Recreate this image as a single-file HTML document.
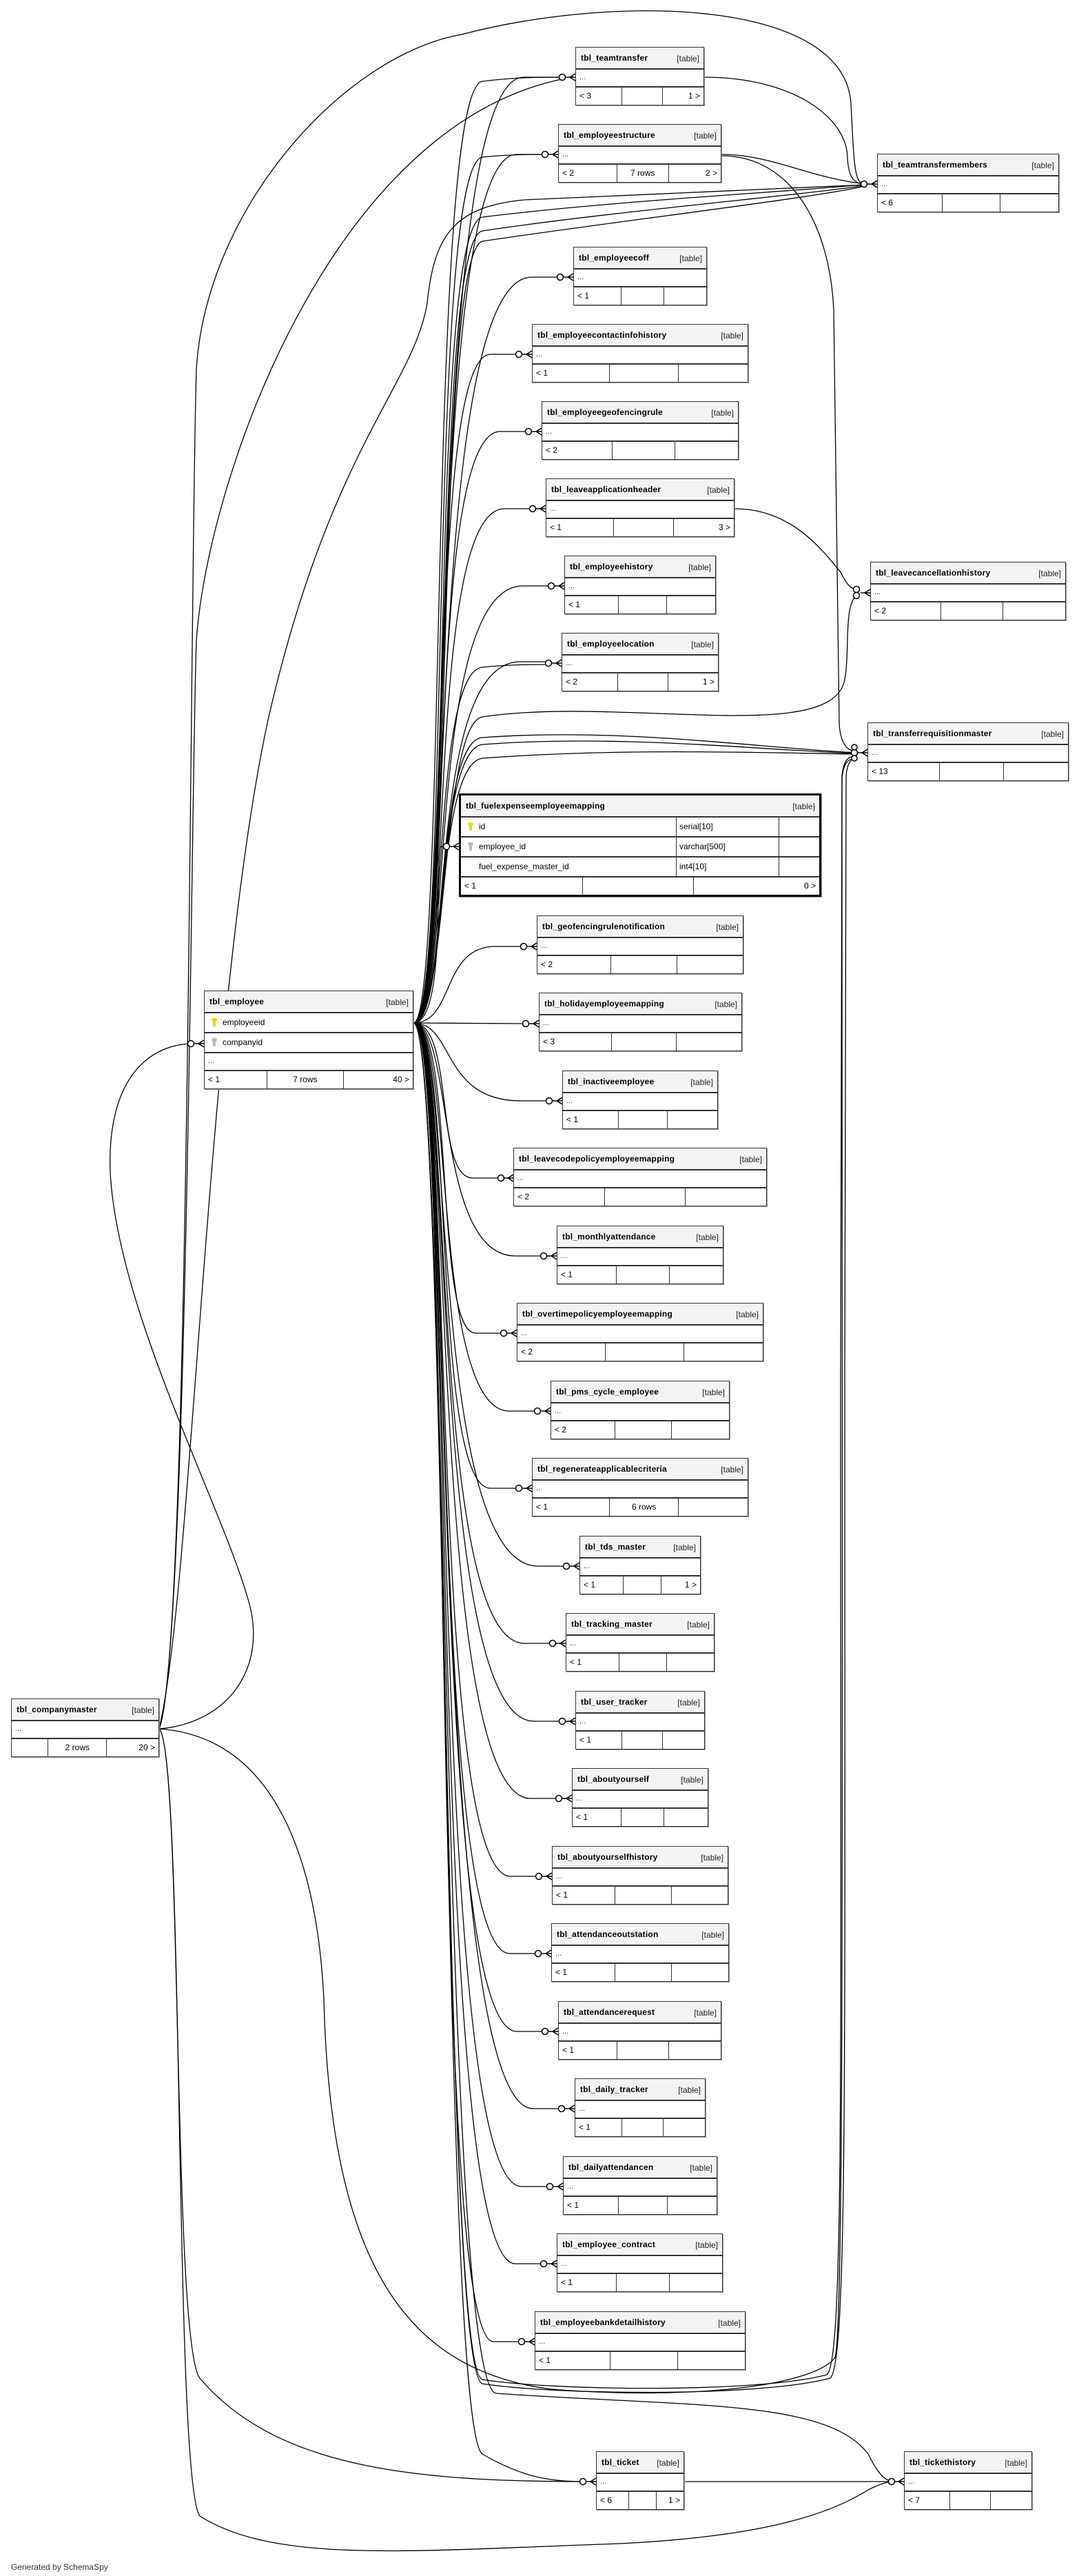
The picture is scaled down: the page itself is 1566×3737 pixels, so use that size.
<!DOCTYPE html>
<html><head><meta charset="utf-8"><style>
body{margin:0;width:1566px;height:3737px;position:relative;background:#fff;overflow:hidden;font-family:"Liberation Sans",sans-serif;color:#000}
.t{position:absolute;border:1px solid #333;background:#fff;box-sizing:border-box;box-shadow:1px 1px 0 #999}
.h{height:30px;background:#f3f3f3;border-bottom:2px solid #333;position:relative}
.h b{position:absolute;left:7px;top:8px;font-size:12px;letter-spacing:0.2px}
.h i{position:absolute;right:6px;top:9px;font-style:normal;font-size:12px;color:#222}
.r{height:24px;border-bottom:2px solid #333;font-size:11px;padding-left:5px;line-height:22px;color:#333;position:relative}
.f{height:25px;display:flex;font-size:12px;line-height:24px}
.f span{box-sizing:border-box;padding:0 5px;border-right:1px solid #333}
.f span:nth-child(1){width:36%}
.f span:nth-child(2){width:32%;text-align:center}
.f span:nth-child(3){flex:1;text-align:right;border-right:none}
.k{display:inline-block;width:4px;height:12px;margin:0 10px 0 4px;vertical-align:-2px;position:relative}
.k:before{content:"";position:absolute;left:-2px;top:0;width:8px;height:5px;border-radius:4px;background:inherit}
.er{height:27px;border-bottom:2px solid #333;font-size:12px;line-height:27px;padding-left:8px;display:flex}
.er div{box-sizing:border-box}
</style></head><body>
<svg width="1566" height="3737" style="position:absolute;left:0;top:0" fill="none" stroke="#000" stroke-width="1.3">
<path d="M600,1484 C660,1484 615,112 760,112 L820,112"/>
<path d="M600,1484 C650,1484 620,130 700,118 C750,112 780,112 820,112"/>
<path d="M600,1484 C660,1484 615,224 750,224 L795,224"/>
<path d="M600,1484 C655,1484 620,240 700,228 C740,224 770,224 795,224"/>
<path d="M600,1484 C660,1484 615,402 772,402 L817,402"/>
<path d="M600,1484 C660,1484 615,514 712,514 L757,514"/>
<path d="M600,1484 C660,1484 615,626 726,626 L771,626"/>
<path d="M600,1484 C660,1484 615,738 732,738 L777,738"/>
<path d="M600,1484 C660,1484 615,850 759,850 L804,850"/>
<path d="M600,1484 C660,1484 615,960 755,960 L800,960"/>
<path d="M600,1484 C650,1484 625,975 700,968 C740,964 770,964 800,964"/>
<path d="M600,1484 C650,1484 630,1228 640,1228 L651,1228"/>
<path d="M600,1484 C660,1484 640,1373 719,1373 L764,1373"/>
<path d="M600,1484 L767,1485"/>
<path d="M600,1484 C660,1484 640,1597 756,1597 L801,1597"/>
<path d="M600,1484 C660,1484 630,1709 686,1709 L731,1709"/>
<path d="M600,1484 C660,1484 630,1822 748,1822 L793,1822"/>
<path d="M600,1484 C660,1484 630,1934 690,1934 L735,1934"/>
<path d="M600,1484 C660,1484 625,2047 739,2047 L784,2047"/>
<path d="M600,1484 C660,1484 625,2159 712,2159 L757,2159"/>
<path d="M600,1484 C660,1484 620,2272 781,2272 L826,2272"/>
<path d="M600,1484 C660,1484 620,2384 761,2384 L806,2384"/>
<path d="M600,1484 C660,1484 620,2497 775,2497 L820,2497"/>
<path d="M600,1484 C660,1484 620,2609 770,2609 L815,2609"/>
<path d="M600,1484 C660,1484 620,2722 741,2722 L786,2722"/>
<path d="M600,1484 C660,1484 620,2834 740,2834 L785,2834"/>
<path d="M600,1484 C660,1484 620,2947 750,2947 L795,2947"/>
<path d="M600,1484 C660,1484 620,3059 774,3059 L819,3059"/>
<path d="M600,1484 C660,1484 620,3172 757,3172 L802,3172"/>
<path d="M600,1484 C660,1484 620,3284 748,3284 L793,3284"/>
<path d="M600,1484 C660,1484 620,3397 716,3397 L761,3397"/>
<path d="M600,1484 C650,1484 640,3520 700,3560 C760,3595 800,3600 850,3600"/>
<path d="M600,1484 C660,1484 620,330 700,315 C900,290 1200,275 1258,267"/>
<path d="M600,1484 C660,1484 625,350 700,335 C900,305 1200,280 1258,268"/>
<path d="M600,1484 C660,1484 630,370 700,350 C900,320 1200,285 1258,269"/>
<path d="M600,1484 C650,1484 640,1050 700,1040 C900,1010 1200,1080 1225,990 C1235,950 1222,870 1247,862"/>
<path d="M600,1484 C650,1484 630,1075 700,1070 C900,1055 1100,1085 1244,1092"/>
<path d="M600,1484 C650,1484 630,1090 700,1080 C900,1065 1100,1088 1244,1093"/>
<path d="M600,1484 C650,1484 630,1110 700,1100 C900,1085 1100,1092 1244,1094"/>
<path d="M600,1484 C650,1484 640,3440 700,3452 C800,3468 1100,3472 1200,3445 C1225,3425 1220,3000 1220,2000 L1222,1125 C1225,1100 1232,1097 1244,1097"/>
<path d="M600,1484 C650,1484 640,3445 700,3458 C800,3474 1100,3478 1205,3450 C1230,3428 1226,3000 1226,2000 L1228,1125 C1230,1105 1236,1100 1244,1100"/>
<path d="M600,1484 C650,1484 640,3460 720,3472 C1000,3492 1200,3480 1260,3560 C1275,3590 1285,3600 1298,3600"/>
<path d="M1022,112 C1150,112 1230,170 1230,230 C1232,260 1240,267 1258,267"/>
<path d="M1047,224 C1120,224 1180,260 1258,267"/>
<path d="M1047,226 C1150,226 1205,330 1210,450 L1218,1050 C1220,1080 1230,1090 1244,1090"/>
<path d="M1066,738 C1150,738 1195,800 1220,830 C1230,850 1235,855 1247,855"/>
<path d="M993,3600 L1298,3600"/>
<path d="M231,2508 C330,2500 390,2420 360,2320 C320,2180 170,1900 160,1700 C155,1560 220,1514 281,1514"/>
<path d="M231,2508 C275,2400 275,900 285,535 C300,300 500,80 670,50 C900,-10 1225,0 1235,150 C1240,250 1240,267 1258,268"/>
<path d="M231,2508 C272,2400 278,1100 285,930 C300,700 480,180 820,114"/>
<path d="M231,2508 C280,2300 300,1450 390,1040 C480,650 600,560 620,440 C630,340 660,300 760,290 C1000,280 1200,272 1258,268"/>
<path d="M231,2508 C400,2520 460,2700 470,2900 C480,3300 600,3440 800,3466 C1000,3482 1180,3462 1212,3420 C1226,3380 1222,2500 1222,1130 C1224,1105 1232,1100 1244,1100"/>
<path d="M231,2508 C265,2540 250,3400 290,3450 C400,3580 600,3600 850,3600"/>
<path d="M231,2508 C268,2540 252,3600 290,3650 C400,3720 600,3700 900,3690 C1100,3680 1200,3650 1260,3612 C1280,3602 1290,3600 1298,3600"/>
<g fill="#fff" stroke-width="1.5">
<circle cx="816" cy="112" r="4.5"/><circle cx="791" cy="224" r="4.5"/><circle cx="813" cy="402" r="4.5"/><circle cx="753" cy="514" r="4.5"/><circle cx="767" cy="626" r="4.5"/><circle cx="773" cy="738" r="4.5"/><circle cx="800" cy="850" r="4.5"/><circle cx="796" cy="962" r="4.5"/><circle cx="648" cy="1228" r="4.5"/><circle cx="760" cy="1373" r="4.5"/><circle cx="763" cy="1485" r="4.5"/><circle cx="797" cy="1597" r="4.5"/><circle cx="727" cy="1709" r="4.5"/><circle cx="789" cy="1822" r="4.5"/><circle cx="731" cy="1934" r="4.5"/><circle cx="780" cy="2047" r="4.5"/><circle cx="753" cy="2159" r="4.5"/><circle cx="822" cy="2272" r="4.5"/><circle cx="802" cy="2384" r="4.5"/><circle cx="816" cy="2497" r="4.5"/><circle cx="811" cy="2609" r="4.5"/><circle cx="782" cy="2722" r="4.5"/><circle cx="781" cy="2834" r="4.5"/><circle cx="791" cy="2947" r="4.5"/><circle cx="815" cy="3059" r="4.5"/><circle cx="798" cy="3172" r="4.5"/><circle cx="789" cy="3284" r="4.5"/><circle cx="757" cy="3397" r="4.5"/><circle cx="846" cy="3600" r="4.5"/><circle cx="1254" cy="267" r="4.5"/><circle cx="1243" cy="855" r="4.5"/><circle cx="1243" cy="864" r="4.5"/><circle cx="1240" cy="1092" r="4.5"/><circle cx="1240" cy="1084" r="4"/><circle cx="1240" cy="1100" r="4"/><circle cx="1294" cy="3600" r="4.5"/><circle cx="277" cy="1514" r="4.5"/>
</g>
<g stroke-width="1.6">
<path d="M827,112 L835,107 M827,112 L835,117 M821,112H835"/>
<path d="M802,224 L810,219 M802,224 L810,229 M796,224H810"/>
<path d="M824,402 L832,397 M824,402 L832,407 M818,402H832"/>
<path d="M764,514 L772,509 M764,514 L772,519 M758,514H772"/>
<path d="M778,626 L786,621 M778,626 L786,631 M772,626H786"/>
<path d="M784,738 L792,733 M784,738 L792,743 M778,738H792"/>
<path d="M811,850 L819,845 M811,850 L819,855 M805,850H819"/>
<path d="M807,962 L815,957 M807,962 L815,967 M801,962H815"/>
<path d="M658,1228 L666,1223 M658,1228 L666,1233 M653,1228H666"/>
<path d="M771,1373 L779,1368 M771,1373 L779,1378 M765,1373H779"/>
<path d="M774,1485 L782,1480 M774,1485 L782,1490 M768,1485H782"/>
<path d="M808,1597 L816,1592 M808,1597 L816,1602 M802,1597H816"/>
<path d="M737,1709 L745,1704 M737,1709 L745,1714 M731,1709H745"/>
<path d="M800,1822 L808,1817 M800,1822 L808,1827 M794,1822H808"/>
<path d="M742,1934 L750,1929 M742,1934 L750,1939 M736,1934H750"/>
<path d="M791,2047 L799,2042 M791,2047 L799,2052 M785,2047H799"/>
<path d="M764,2159 L772,2154 M764,2159 L772,2164 M758,2159H772"/>
<path d="M833,2272 L841,2267 M833,2272 L841,2277 M827,2272H841"/>
<path d="M813,2384 L821,2379 M813,2384 L821,2389 M807,2384H821"/>
<path d="M827,2497 L835,2492 M827,2497 L835,2502 M821,2497H835"/>
<path d="M822,2609 L830,2604 M822,2609 L830,2614 M816,2609H830"/>
<path d="M793,2722 L801,2717 M793,2722 L801,2727 M787,2722H801"/>
<path d="M792,2834 L800,2829 M792,2834 L800,2839 M786,2834H800"/>
<path d="M802,2947 L810,2942 M802,2947 L810,2952 M796,2947H810"/>
<path d="M826,3059 L834,3054 M826,3059 L834,3064 M820,3059H834"/>
<path d="M809,3172 L817,3167 M809,3172 L817,3177 M803,3172H817"/>
<path d="M800,3284 L808,3279 M800,3284 L808,3289 M794,3284H808"/>
<path d="M768,3397 L776,3392 M768,3397 L776,3402 M762,3397H776"/>
<path d="M857,3600 L865,3595 M857,3600 L865,3605 M851,3600H865"/>
<path d="M1265,267 L1273,262 M1265,267 L1273,272 M1259,267H1273"/>
<path d="M1255,860 L1263,855 M1255,860 L1263,865 M1249,860H1263"/>
<path d="M1251,1092 L1259,1087 M1251,1092 L1259,1097 M1245,1092H1259"/>
<path d="M1304,3600 L1312,3595 M1304,3600 L1312,3605 M1298,3600H1312"/>
<path d="M288,1514 L296,1509 M288,1514 L296,1519 M282,1514H296"/>
</g>
</svg>

<div class="t" style="left:835px;top:68px;width:187px"><div class="h"><b>tbl_teamtransfer</b><i>[table]</i></div><div class="r">...</div><div class="f"><span>&lt; 3</span><span></span><span>1 &gt;</span></div></div>
<div class="t" style="left:810px;top:180px;width:237px"><div class="h"><b>tbl_employeestructure</b><i>[table]</i></div><div class="r">...</div><div class="f"><span>&lt; 2</span><span>7 rows</span><span>2 &gt;</span></div></div>
<div class="t" style="left:1273px;top:223px;width:264px"><div class="h"><b>tbl_teamtransfermembers</b><i>[table]</i></div><div class="r">...</div><div class="f"><span>&lt; 6</span><span></span><span></span></div></div>
<div class="t" style="left:832px;top:358px;width:194px"><div class="h"><b>tbl_employeecoff</b><i>[table]</i></div><div class="r">...</div><div class="f"><span>&lt; 1</span><span></span><span></span></div></div>
<div class="t" style="left:772px;top:470px;width:314px"><div class="h"><b>tbl_employeecontactinfohistory</b><i>[table]</i></div><div class="r">...</div><div class="f"><span>&lt; 1</span><span></span><span></span></div></div>
<div class="t" style="left:786px;top:582px;width:286px"><div class="h"><b>tbl_employeegeofencingrule</b><i>[table]</i></div><div class="r">...</div><div class="f"><span>&lt; 2</span><span></span><span></span></div></div>
<div class="t" style="left:792px;top:694px;width:274px"><div class="h"><b>tbl_leaveapplicationheader</b><i>[table]</i></div><div class="r">...</div><div class="f"><span>&lt; 1</span><span></span><span>3 &gt;</span></div></div>
<div class="t" style="left:819px;top:806px;width:220px"><div class="h"><b>tbl_employeehistory</b><i>[table]</i></div><div class="r">...</div><div class="f"><span>&lt; 1</span><span></span><span></span></div></div>
<div class="t" style="left:815px;top:918px;width:228px"><div class="h"><b>tbl_employeelocation</b><i>[table]</i></div><div class="r">...</div><div class="f"><span>&lt; 2</span><span></span><span>1 &gt;</span></div></div>
<div class="t" style="left:1263px;top:815px;width:284px"><div class="h"><b>tbl_leavecancellationhistory</b><i>[table]</i></div><div class="r">...</div><div class="f"><span>&lt; 2</span><span></span><span></span></div></div>
<div class="t" style="left:1259px;top:1048px;width:292px"><div class="h"><b>tbl_transferrequisitionmaster</b><i>[table]</i></div><div class="r">...</div><div class="f"><span>&lt; 13</span><span></span><span></span></div></div>

<div class="t" style="left:666px;top:1151px;width:526px;border:3px solid #000">
<div class="h"><b>tbl_fuelexpenseemployeemapping</b><i>[table]</i></div>
<div class="er"><div style="width:304px"><span class="k" style="background:#e8d800"></span>id</div><div style="width:150px;border-left:1px solid #333;border-right:1px solid #333;padding-left:4px">serial[10]</div></div>
<div class="er"><div style="width:304px"><span class="k" style="background:#bbb"></span>employee_id</div><div style="width:150px;border-left:1px solid #333;border-right:1px solid #333;padding-left:4px">varchar[500]</div></div>
<div class="er"><div style="width:304px;padding-left:18px">fuel_expense_master_id</div><div style="width:150px;border-left:1px solid #333;border-right:1px solid #333;padding-left:4px">int4[10]</div></div>
<div class="f"><span style="width:34%">&lt; 1</span><span style="width:31%"></span><span>0 &gt;</span></div></div>

<div class="t" style="left:296px;top:1437px;width:304px">
<div class="h"><b>tbl_employee</b><i>[table]</i></div>
<div class="er"><div><span class="k" style="background:#e8d800"></span>employeeid</div></div>
<div class="er"><div><span class="k" style="background:#bbb"></span>companyid</div></div>
<div class="r">...</div>
<div class="f"><span style="width:30%">&lt; 1</span><span style="width:37%">7 rows</span><span>40 &gt;</span></div></div>

<div class="t" style="left:779px;top:1328px;width:300px"><div class="h"><b>tbl_geofencingrulenotification</b><i>[table]</i></div><div class="r">...</div><div class="f"><span>&lt; 2</span><span></span><span></span></div></div>
<div class="t" style="left:782px;top:1440px;width:295px"><div class="h"><b>tbl_holidayemployeemapping</b><i>[table]</i></div><div class="r">...</div><div class="f"><span>&lt; 3</span><span></span><span></span></div></div>
<div class="t" style="left:816px;top:1553px;width:226px"><div class="h"><b>tbl_inactiveemployee</b><i>[table]</i></div><div class="r">...</div><div class="f"><span>&lt; 1</span><span></span><span></span></div></div>
<div class="t" style="left:745px;top:1665px;width:368px"><div class="h"><b>tbl_leavecodepolicyemployeemapping</b><i>[table]</i></div><div class="r">...</div><div class="f"><span>&lt; 2</span><span></span><span></span></div></div>
<div class="t" style="left:808px;top:1778px;width:242px"><div class="h"><b>tbl_monthlyattendance</b><i>[table]</i></div><div class="r">...</div><div class="f"><span>&lt; 1</span><span></span><span></span></div></div>
<div class="t" style="left:750px;top:1890px;width:358px"><div class="h"><b>tbl_overtimepolicyemployeemapping</b><i>[table]</i></div><div class="r">...</div><div class="f"><span>&lt; 2</span><span></span><span></span></div></div>
<div class="t" style="left:799px;top:2003px;width:260px"><div class="h"><b>tbl_pms_cycle_employee</b><i>[table]</i></div><div class="r">...</div><div class="f"><span>&lt; 2</span><span></span><span></span></div></div>
<div class="t" style="left:772px;top:2115px;width:314px"><div class="h"><b>tbl_regenerateapplicablecriteria</b><i>[table]</i></div><div class="r">...</div><div class="f"><span>&lt; 1</span><span>6 rows</span><span></span></div></div>
<div class="t" style="left:841px;top:2228px;width:176px"><div class="h"><b>tbl_tds_master</b><i>[table]</i></div><div class="r">...</div><div class="f"><span>&lt; 1</span><span></span><span>1 &gt;</span></div></div>
<div class="t" style="left:821px;top:2340px;width:216px"><div class="h"><b>tbl_tracking_master</b><i>[table]</i></div><div class="r">...</div><div class="f"><span>&lt; 1</span><span></span><span></span></div></div>
<div class="t" style="left:835px;top:2453px;width:188px"><div class="h"><b>tbl_user_tracker</b><i>[table]</i></div><div class="r">...</div><div class="f"><span>&lt; 1</span><span></span><span></span></div></div>
<div class="t" style="left:830px;top:2565px;width:198px"><div class="h"><b>tbl_aboutyourself</b><i>[table]</i></div><div class="r">...</div><div class="f"><span>&lt; 1</span><span></span><span></span></div></div>
<div class="t" style="left:801px;top:2678px;width:256px"><div class="h"><b>tbl_aboutyourselfhistory</b><i>[table]</i></div><div class="r">...</div><div class="f"><span>&lt; 1</span><span></span><span></span></div></div>
<div class="t" style="left:800px;top:2790px;width:258px"><div class="h"><b>tbl_attendanceoutstation</b><i>[table]</i></div><div class="r">...</div><div class="f"><span>&lt; 1</span><span></span><span></span></div></div>
<div class="t" style="left:810px;top:2903px;width:237px"><div class="h"><b>tbl_attendancerequest</b><i>[table]</i></div><div class="r">...</div><div class="f"><span>&lt; 1</span><span></span><span></span></div></div>
<div class="t" style="left:834px;top:3015px;width:190px"><div class="h"><b>tbl_daily_tracker</b><i>[table]</i></div><div class="r">...</div><div class="f"><span>&lt; 1</span><span></span><span></span></div></div>
<div class="t" style="left:817px;top:3128px;width:224px"><div class="h"><b>tbl_dailyattendancen</b><i>[table]</i></div><div class="r">...</div><div class="f"><span>&lt; 1</span><span></span><span></span></div></div>
<div class="t" style="left:808px;top:3240px;width:241px"><div class="h"><b>tbl_employee_contract</b><i>[table]</i></div><div class="r">...</div><div class="f"><span>&lt; 1</span><span></span><span></span></div></div>
<div class="t" style="left:776px;top:3353px;width:306px"><div class="h"><b>tbl_employeebankdetailhistory</b><i>[table]</i></div><div class="r">...</div><div class="f"><span>&lt; 1</span><span></span><span></span></div></div>
<div class="t" style="left:865px;top:3556px;width:128px"><div class="h"><b>tbl_ticket</b><i>[table]</i></div><div class="r">...</div><div class="f"><span style="width:37%">&lt; 6</span><span style="width:32%"></span><span>1 &gt;</span></div></div>
<div class="t" style="left:1312px;top:3556px;width:186px"><div class="h"><b>tbl_tickethistory</b><i>[table]</i></div><div class="r">...</div><div class="f"><span>&lt; 7</span><span></span><span></span></div></div>
<div class="t" style="left:16px;top:2464px;width:215px"><div class="h"><b>tbl_companymaster</b><i>[table]</i></div><div class="r">...</div><div class="f"><span style="width:25%"></span><span style="width:40%">2 rows</span><span>20 &gt;</span></div></div>

<div style="position:absolute;left:16px;top:3717px;font-size:12px;color:#333">Generated by SchemaSpy</div>
</body></html>
